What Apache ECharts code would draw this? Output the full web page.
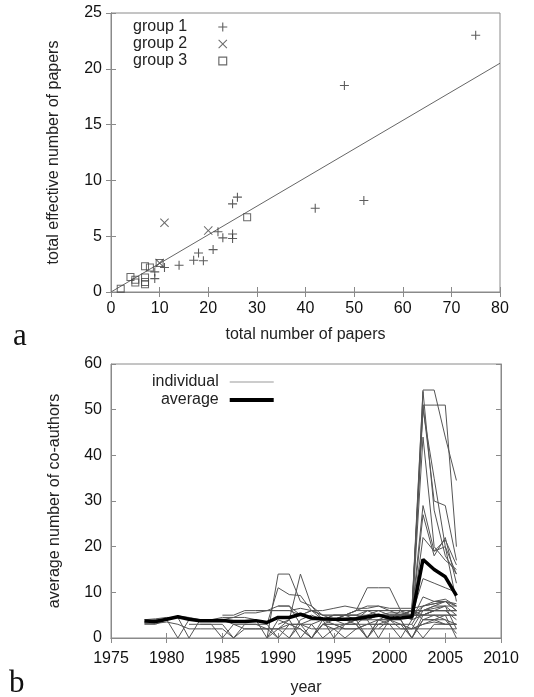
<!DOCTYPE html>
<html>
<head>
<meta charset="utf-8">
<title>papers and co-authors</title>
<script src="https://cdn.jsdelivr.net/npm/echarts@6/dist/echarts.min.js"></script>
<style>
  html, body { margin: 0; padding: 0; background: #fff; }
  #chart { width: 534px; height: 697px; }
</style>
</head>
<body>
<div id="chart"></div>
<script>
// panel a: effective vs total number of papers
var group1 = [[75, 23], [48, 18.5], [52, 8.2], [42, 7.5], [26, 8.5], [25, 7.9], [25, 5.2], [25, 4.8],
  [23, 4.85], [22, 5.4], [21, 3.8], [18, 3.5], [17, 2.85], [19, 2.8], [14, 2.4], [11, 2.2], [9, 1.8], [9, 1.2]]
var group2 = [[11, 6.2], [20, 5.5], [10, 2.6]]
var group3 = [[2, 0.3], [4, 1.35], [5, 1.1], [5, 0.85], [7, 1.3], [7, 0.9], [7, 0.7], [7, 2.3], [8, 2.2],
  [10, 2.6], [28, 6.7]]
var fitLine = [[0, 0], [80, 20.5]]

// panel b: average number of co-authors per year
var average = [3.7, 3.6, 4.1, 4.65, 4.1, 3.8, 3.8, 3.85, 3.6, 3.6, 3.8, 3.4, 4.5, 4.5, 5.2, 4.4, 4.2, 4.1,
  4.1, 4.2, 4.6, 5.0, 4.4, 4.4, 4.65, 17.2, 15.0, 13.4, 9.3]
var averageStart = 1978

// first year of each individual curve, and its yearly values
var individualStart = [1978, 1978, 1978, 1982, 1989, 1989, 1990, 1994, 2001, 2001, 2000, 2001, 2001, 2002,
  2002, 2002, 2002, 2002, 1989, 1990, 1991, 1992, 1993, 1995, 1988, 1985, 1990, 1996, 1978, 1983,
  1994, 1997, 1999, 2002]
var individualValues = [
  [3.0, 3.0, 4.0, 4.8, 4.5, 4.0, 4.0, 4.0, 4.5, 5.5, 5.5, 6.0, 6.0, 6.0, 6.5, 6.0, 6.0, 6.5, 7.0, 6.5, 6.5, 7.0, 6.5, 6.5, 6.5, 7.0, 7.5, 8.0, 7.5],
  [3.5, 4.0, 4.0, 0, 4.0, 4.0, 4.0, 4.0, 3.0, 2.0, 2.0, 2.0, 2.0, 3.0, 3.0, 4.0, 4.0, 5.0, 5.0, 5.0, 6.0, 6.0, 6.0, 6.0, 6.0, 6.0, 6.0, 6.0, 6.0],
  [4.0, 4.2, 4.5, 4.5, 0, 4.0, 4.0, 4.5, 4.5, 4.5, 4.0, 0, 4.0, 3.0, 3.0, 0, 3.0, 4.0, 4.0, 3.0, 0, 4.0, 4.0, 2.0, 2.0, 3.0, 3.5, 3.0, 3.0],
  [3, 3, 3, 0, 3, 3, 3, 2, 2, 2, 2, 0, 3, 3, 3, 4, 4, 5, 5, 5, 5, 5, 5, 5, 5],
  [0, 14, 14, 8, 7, 5, 5, 5, 5, 5, 6, 6, 6, 6, 5, 6, 7, 7],
  [3, 11, 9.5, 9.3, 6, 4, 4, 4, 4.5, 5, 5, 5.5, 5.5, 5, 5, 6, 6, 6],
  [3, 4, 14, 7, 4, 3, 2, 2, 3, 3, 3, 3, 2, 3, 4, 5, 5],
  [4, 4, 5, 6, 11, 11, 11, 6, 5, 13, 12, 11, 10],
  [6, 6, 54.3, 54.3, 44, 34.5],
  [5, 5, 51, 51, 51, 20],
  [5, 5, 6, 51, 30, 29, 17],
  [5, 5, 29, 19, 20, 14],
  [5, 4, 22, 19, 21.5, 16],
  [5, 54, 28, 18, 14],
  [5, 50, 35, 20, 8],
  [4, 9, 8, 8.5, 7],
  [3, 7, 7.5, 8, 6],
  [2, 6, 6.5, 7, 5],
  [0, 2, 4, 0, 3, 4, 0, 3, 4, 4, 0, 4, 4, 0, 4, 4, 4, 3],
  [2, 0, 3, 3, 0, 2, 3, 3, 0, 3, 4, 3, 0, 4, 4, 3, 3],
  [0, 4, 5, 4, 4, 3, 3, 5, 5, 4, 4, 0, 5, 6, 6, 4],
  [5, 6, 5, 5, 5, 4, 6, 6, 5, 5, 5, 6, 7, 7, 2],
  [0, 4, 5, 5, 6, 6, 5, 4, 5, 6, 4, 5, 5, 0],
  [4, 5, 6, 7, 7, 6, 5, 5, 7, 8, 8, 7],
  [6, 6, 7, 7, 5, 6, 5, 4, 4, 4, 4, 5, 5, 5, 6, 6, 6, 6, 6],
  [5, 5, 6, 6, 6, 6, 6, 5, 4, 4, 4, 5, 5, 4, 4, 4, 5, 5, 5, 6, 6, 6],
  [7, 7, 3, 2, 2, 2, 2, 2, 2, 2, 2, 2, 2, 2, 2, 2, 2],
  [3, 3, 3, 3, 3, 3, 3, 0, 3, 3, 3],
  [3.2, 3.2, 3.5, 3.0, 2.0, 2.0, 2.0, 2.0, 0, 2.0, 2.0, 2.0, 0],
  [3, 3, 3, 0, 3, 3, 3, 0, 3, 2, 0, 3, 3, 2],
  [3, 2, 0, 2, 3, 4, 3, 0, 4, 5, 5, 4, 1],
  [4, 0, 4, 5, 5, 6, 6, 7, 8, 6],
  [2, 4, 6, 4, 27, 18, 22, 12],
  [4, 44, 20, 17, 15]
]

var xTicksA = { min: 0, max: 80, interval: 10 }
var yTicksA = { min: 0, max: 25, interval: 5 }
var xTicksB = { min: 1975, max: 2010, interval: 5 }
var yTicksB = { min: 0, max: 60, interval: 10 }

var font = 'Liberation Sans, Arial, sans-serif'
var frame = '#8a8a8a'

function toPairs (start, vals) {
  return vals.map(function (v, i) { return [start + i, v] })
}

function mainAxis (grid, ticks, pos, name, gap, margin) {
  return {
    type: 'value',
    gridIndex: grid,
    position: pos,
    min: ticks.min,
    max: ticks.max,
    interval: ticks.interval,
    name: name,
    nameLocation: 'middle',
    nameGap: gap,
    nameTextStyle: { fontFamily: font, fontSize: 16, color: '#222' },
    axisLine: { show: true, lineStyle: { color: frame } },
    axisTick: { show: true, inside: true, length: 5, lineStyle: { color: frame } },
    axisLabel: {
      fontFamily: font, fontSize: 16, color: '#111', margin: margin,
      formatter: function (v) { return String(v) }
    },
    splitLine: { show: false }
  }
}

function mirrorAxis (grid, ticks, pos) {
  return {
    type: 'value',
    gridIndex: grid,
    position: pos,
    min: ticks.min,
    max: ticks.max,
    interval: ticks.interval,
    axisLine: { show: true, lineStyle: { color: frame } },
    axisTick: { show: true, inside: true, length: 5, lineStyle: { color: frame } },
    axisLabel: { show: false },
    splitLine: { show: false }
  }
}

var plusPath = 'path://M4.4,0H5.6V10H4.4Z M0,4.4H10V5.6H0Z'
var crossPath = 'path://M0.8,0L5,4.2L9.2,0L10,0.8L5.8,5L10,9.2L9.2,10L5,5.8L0.8,10L0,9.2L4.2,5L0,0.8Z'
var squarePath = 'path://M0,0H10V10H0Z M1.3,1.3V8.7H8.7V1.3Z'

var series = [
  {
    name: 'fit', type: 'line', xAxisIndex: 0, yAxisIndex: 0, data: fitLine,
    symbol: 'none', silent: true, z: 1,
    lineStyle: { color: '#666', width: 1 }
  },
  {
    name: 'group 1', type: 'scatter', xAxisIndex: 0, yAxisIndex: 0, data: group1,
    symbol: plusPath, symbolSize: 9, z: 3,
    itemStyle: { color: '#333' }
  },
  {
    name: 'group 2', type: 'scatter', xAxisIndex: 0, yAxisIndex: 0, data: group2,
    symbol: crossPath, symbolSize: 9, z: 3,
    itemStyle: { color: '#444' }
  },
  {
    name: 'group 3', type: 'scatter', xAxisIndex: 0, yAxisIndex: 0, data: group3,
    symbol: squarePath, symbolSize: 8, z: 3,
    itemStyle: { color: '#444' }
  }
]

individualValues.forEach(function (vals, i) {
  series.push({
    name: 'individual', type: 'line', xAxisIndex: 2, yAxisIndex: 2,
    data: toPairs(individualStart[i], vals),
    symbol: 'none', silent: true, z: 2,
    lineStyle: { color: '#555', width: 1 },
    itemStyle: { color: '#999' }
  })
})

series.push({
  name: 'average', type: 'line', xAxisIndex: 2, yAxisIndex: 2,
  data: toPairs(averageStart, average),
  symbol: 'none', silent: true, z: 5,
  lineStyle: { color: '#000', width: 3.5 },
  itemStyle: { color: '#000' }
})

var option = {
  animation: false,
  backgroundColor: '#fff',
  grid: [
    { left: 111, top: 13, width: 389, height: 279, show: true, borderColor: frame, borderWidth: 1 },
    { left: 111, top: 364, width: 390, height: 279, show: true, borderColor: frame, borderWidth: 1 }
  ],
  xAxis: [
    mainAxis(0, xTicksA, 'bottom', 'total number of papers', 35, 9),
    mirrorAxis(0, xTicksA, 'top'),
    mainAxis(1, xTicksB, 'bottom', 'year', 42, 13),
    mirrorAxis(1, xTicksB, 'top')
  ],
  yAxis: [
    mainAxis(0, yTicksA, 'left', 'total effective number of papers', 49, 9),
    mirrorAxis(0, yTicksA, 'right'),
    mainAxis(1, yTicksB, 'left', 'average number of co-authors', 48, 9),
    mirrorAxis(1, yTicksB, 'right')
  ],
  legend: [
    {
      data: [
        { name: 'group 1', icon: plusPath },
        { name: 'group 2', icon: crossPath },
        { name: 'group 3', icon: squarePath }
      ],
      orient: 'vertical', align: 'right',
      left: 128, top: 14,
      itemWidth: 9, itemHeight: 9, itemGap: 1,
      symbolKeepAspect: true,
      textStyle: { fontFamily: font, fontSize: 16, color: '#222', padding: [0, 26, 0, 0] }
    },
    {
      data: [
        { name: 'individual', icon: 'path://M0,0H44V1.2H0Z' },
        { name: 'average', icon: 'path://M0,0H44V4H0Z' }
      ],
      orient: 'vertical', align: 'right',
      left: 147, top: 369,
      itemWidth: 44, itemHeight: 14, itemGap: 2,
      symbolKeepAspect: true,
      textStyle: { fontFamily: font, fontSize: 16, color: '#222', padding: [0, 6, 0, 0] }
    }
  ],
  graphic: [
    { type: 'text', left: 13, top: 321, style: { text: 'a', font: '31px "Liberation Serif", serif', fill: '#111' } },
    { type: 'text', left: 9, top: 668, style: { text: 'b', font: '31px "Liberation Serif", serif', fill: '#111' } }
  ],
  series: series
}

var myChart = echarts.init(document.getElementById('chart'))
myChart.setOption(option)
window.addEventListener('resize', function () {
  myChart.resize()
})
</script>
</body>
</html>
